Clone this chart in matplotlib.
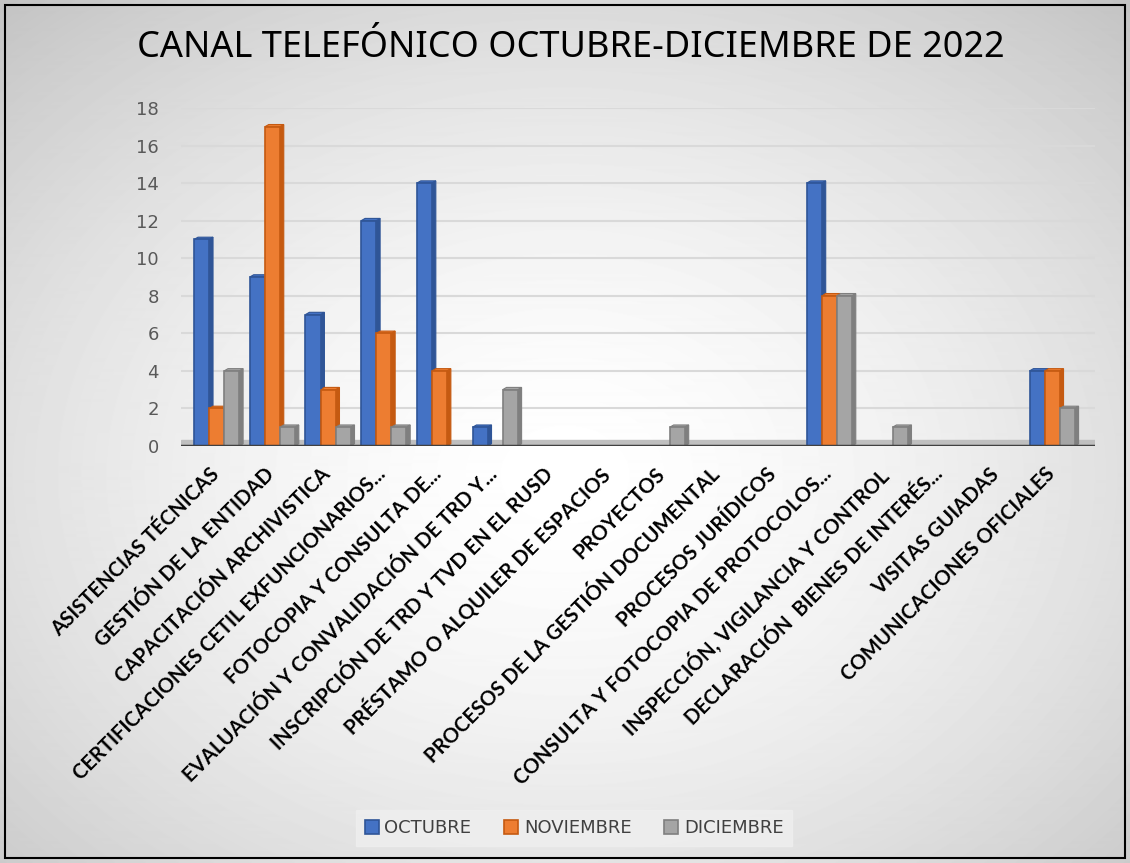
import numpy as np
import matplotlib.pyplot as plt
from matplotlib.patches import Polygon, Rectangle

categories = [
    "ASISTENCIAS TÉCNICAS",
    "GESTIÓN DE LA ENTIDAD",
    "CAPACITACIÓN ARCHIVISTICA",
    "CERTIFICACIONES CETIL EXFUNCIONARIOS...",
    "FOTOCOPIA Y CONSULTA DE...",
    "EVALUACIÓN Y CONVALIDACIÓN DE TRD Y...",
    "INSCRIPCIÓN DE TRD Y TVD EN EL RUSD",
    "PRÉSTAMO O ALQUILER DE ESPACIOS",
    "PROYECTOS",
    "PROCESOS DE LA GESTIÓN DOCUMENTAL",
    "PROCESOS JURÍDICOS",
    "CONSULTA Y FOTOCOPIA DE PROTOCOLOS...",
    "INSPECCIÓN, VIGILANCIA Y CONTROL",
    "DECLARACIÓN  BIENES DE INTERÉS...",
    "VISITAS GUIADAS",
    "COMUNICACIONES OFICIALES",
]
octubre = [11, 9, 7, 12, 14, 1, 0, 0, 0, 0, 0, 14, 0, 0, 0, 4]
noviembre = [2, 17, 3, 6, 4, 0, 0, 0, 0, 0, 0, 8, 0, 0, 0, 4]
diciembre = [4, 1, 1, 1, 0, 3, 0, 0, 1, 0, 0, 8, 1, 0, 0, 2]

series = [
    ("OCTUBRE", octubre, "#4472C4", "#2F5597"),
    ("NOVIEMBRE", noviembre, "#ED7D31", "#C55A11"),
    ("DICIEMBRE", diciembre, "#A5A5A5", "#7F7F7F"),
]

W, H = 1130, 863
fig = plt.figure(figsize=(W / 100, H / 100), dpi=100)

# soft radial background like the office chart style
bg = fig.add_axes([0, 0, 1, 1], zorder=-10)
yy, xx = np.mgrid[0:H, 0:W]
r = np.sqrt(((xx - 0.5 * W) / (0.75 * W)) ** 2 + ((yy - 0.55 * H) / (0.75 * H)) ** 2)
shade = 1.0 - 0.24 * np.clip(r, 0, 1) ** 1.6
bg.imshow(shade, cmap="gray", vmin=0, vmax=1, aspect="auto", extent=[0, 1, 0, 1])
bg.set_axis_off()
fig.patches.append(Rectangle((0.004, 0.006), 0.992, 0.988, transform=fig.transFigure,
                             fill=False, edgecolor="black", linewidth=1.5))

ax = fig.add_axes([181 / W, 1 - 446 / H, (1095 - 181) / W, (446 - 108) / H])
ax.set_facecolor("none")

x = np.arange(len(categories))
bw = 0.27
dx, dy = 0.07, 0.12
for i, (name, vals, face, edge) in enumerate(series):
    pos = x + (i - 1) * bw + 0.14
    ax.bar(pos, vals, bw, color=face, edgecolor=edge, linewidth=1.2, label=name, zorder=3)
    for p, v in zip(pos, vals):
        if v <= 0:
            continue
        right = p + bw / 2
        side = Polygon([(right, 0), (right + dx, dy), (right + dx, v + dy), (right, v)],
                       closed=True, facecolor=edge, edgecolor=edge, linewidth=0.8, zorder=2)
        top = Polygon([(right - bw, v), (right - bw + dx, v + dy), (right + dx, v + dy), (right, v)],
                      closed=True, facecolor=face, edgecolor=edge, linewidth=0.8, zorder=2)
        ax.add_patch(side)
        ax.add_patch(top)

# floor
ax.axhspan(0, 0.3, color="#BFBFBF", zorder=1)
ax.axhline(0, color="#404040", linewidth=2.5, zorder=4)

ax.set_ylim(0, 18)
ax.set_xlim(-0.5, len(categories) - 0.09)
ax.set_yticks(range(0, 19, 2))
ax.yaxis.grid(True, color="#D9D9D9", linewidth=1.5, zorder=0)
ax.set_axisbelow(True)
for s in ax.spines.values():
    s.set_visible(False)
ax.tick_params(axis="y", length=0, labelsize=13, labelcolor="#595959", pad=16)
ax.tick_params(axis="x", length=0, pad=13)
ax.set_xticks(x)
ax.set_xticklabels(categories, rotation=45, ha="right", rotation_mode="anchor",
                   fontsize=14.6, fontweight="bold", family="Lato", color="black")

fig.text(0.505, 1 - 48 / H, "CANAL TELEFÓNICO OCTUBRE-DICIEMBRE DE 2022",
         ha="center", va="center", fontsize=26, family="Noto Sans", color="black")

leg = fig.legend(loc="center", bbox_to_anchor=(0.508, 1 - 828 / H), ncol=3, frameon=True,
                 fontsize=13, handlelength=0.8, handleheight=0.8, handletextpad=0.3,
                 columnspacing=1.8, borderpad=0.5, fancybox=False)
leg.get_frame().set_facecolor("#EFEFEF")
leg.get_frame().set_edgecolor("#EFEFEF")
for t in leg.get_texts():
    t.set_color("#404040")

fig.savefig("out.png", dpi=100)
